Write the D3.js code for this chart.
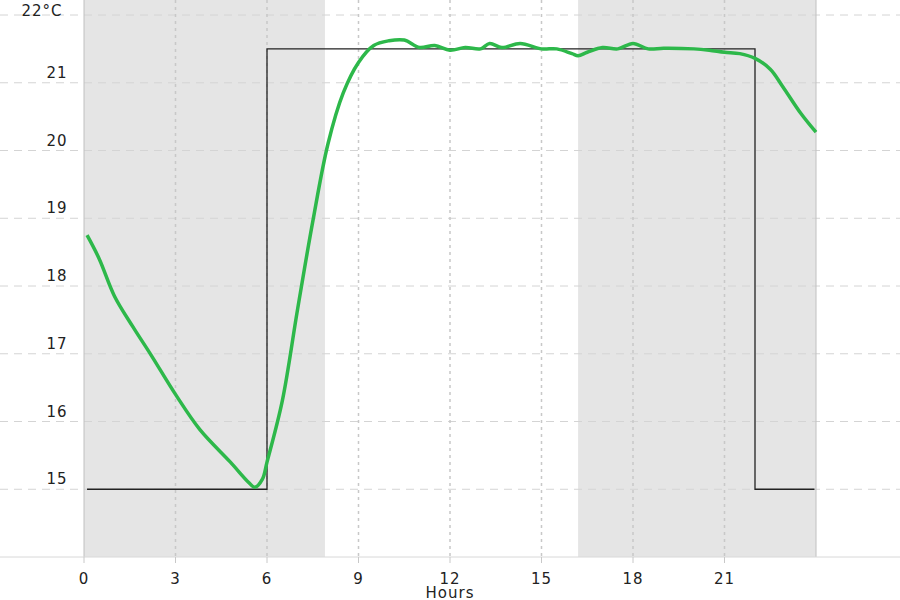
<!DOCTYPE html>
<html><head><meta charset="utf-8">
<script src="https://cdn.jsdelivr.net/npm/d3@7/dist/d3.min.js"></script>
<style>body{margin:0;background:#fff}text{font-family:"DejaVu Sans",sans-serif;letter-spacing:1px}</style>
</head><body><svg id="c" width="900" height="600"></svg>
<script>
const xTicks=[0,3,6,9,12,15,18,21];
const yTicks=[15,16,17,18,19,20,21,22];
const yTickLabels=["15","16","17","18","19","20","21","22°C"];
const shadedBands=[[0,7.9],[16.2,24]];
const setpointHours=[0.1,6,6,22,22,23.95];
const setpointTemps=[15,15,21.5,21.5,15,15];
const tempHours=[0.1,0.5,1,1.6,2.2,3,3.8,4.8,5.4,5.6,5.85,6,6.5,7,7.5,8,8.5,9,9.5,10,10.5,11,11.5,12,12.5,13,13.3,13.7,14.3,15,15.5,16,16.2,16.5,17,17.5,18,18.5,19,20,20.5,21,21.5,22,22.5,22.9,23.5,24];
const tempValues=[18.75,18.4,17.85,17.4,16.98,16.4,15.88,15.4,15.1,15.03,15.15,15.4,16.3,17.65,18.95,20.1,20.85,21.3,21.55,21.62,21.63,21.52,21.55,21.48,21.52,21.5,21.58,21.52,21.58,21.5,21.5,21.43,21.4,21.45,21.52,21.5,21.58,21.5,21.51,21.5,21.48,21.45,21.43,21.36,21.2,20.95,20.55,20.27];

const svg=d3.select("#c");
const x=d3.scaleLinear().domain([0,24]).range([84,816]);
const y=d3.scaleLinear().domain([14,22]).range([557,15]);

svg.selectAll(".band").data(shadedBands).join("rect")
 .attr("x",d=>x(d[0])).attr("width",d=>x(d[1])-x(d[0]))
 .attr("y",0).attr("height",y(14)).attr("fill","#e5e5e5");

svg.selectAll(".hg").data(yTicks).join("line")
 .attr("x1",0).attr("x2",900).attr("y1",d=>y(d)).attr("y2",d=>y(d))
 .attr("stroke","#d4d4d4").attr("stroke-dasharray","8,6");
svg.selectAll(".vg").data(xTicks.slice(1)).join("line")
 .attr("x1",d=>x(d)).attr("x2",d=>x(d)).attr("y1",0).attr("y2",y(14))
 .attr("stroke","#c8c8c8").attr("stroke-dasharray","3,4").attr("stroke-width",1.5);

svg.append("line").attr("x1",x(0)).attr("x2",x(0)).attr("y1",0).attr("y2",y(14)).attr("stroke","#c0c0c0");
svg.append("line").attr("x1",x(24)).attr("x2",x(24)).attr("y1",0).attr("y2",y(14)).attr("stroke","#c0c0c0");
svg.append("line").attr("x1",0).attr("x2",900).attr("y1",y(14)).attr("y2",y(14)).attr("stroke","#d8d8d8");

svg.selectAll(".xt").data(xTicks).join("line")
 .attr("x1",d=>x(d)).attr("x2",d=>x(d)).attr("y1",y(14)).attr("y2",y(14)+6).attr("stroke","#c8c8c8");
svg.selectAll(".xl").data(xTicks).join("text")
 .attr("x",d=>x(d)).attr("y",584).attr("text-anchor","middle").attr("font-size",15).attr("fill","#222").text(d=>d);
svg.append("text").attr("x",450).attr("y",598).attr("text-anchor","middle").attr("font-size",15).attr("fill","#222").text("Hours");
svg.selectAll(".yl").data(yTicks).join("text")
 .attr("x",(d,i)=>i===yTicks.length-1?42:57).attr("y",(d,i)=>i===yTicks.length-1?16:y(d)-5).attr("text-anchor","middle")
 .attr("font-size",15).attr("fill","#222").text((d,i)=>yTickLabels[i]);

const sp=setpointHours.map((h,i)=>[h,setpointTemps[i]]);
svg.append("path").datum(sp).attr("d",d3.line().x(d=>x(d[0])).y(d=>y(d[1])))
 .attr("fill","none").attr("stroke","#222").attr("stroke-width",1.3);

const tp=tempHours.map((h,i)=>[h,tempValues[i]]);
svg.append("path").datum(tp).attr("d",d3.line().curve(d3.curveCatmullRom).x(d=>x(d[0])).y(d=>y(d[1])))
 .attr("fill","none").attr("stroke","#2db84a").attr("stroke-width",3.5);
</script></body></html>
